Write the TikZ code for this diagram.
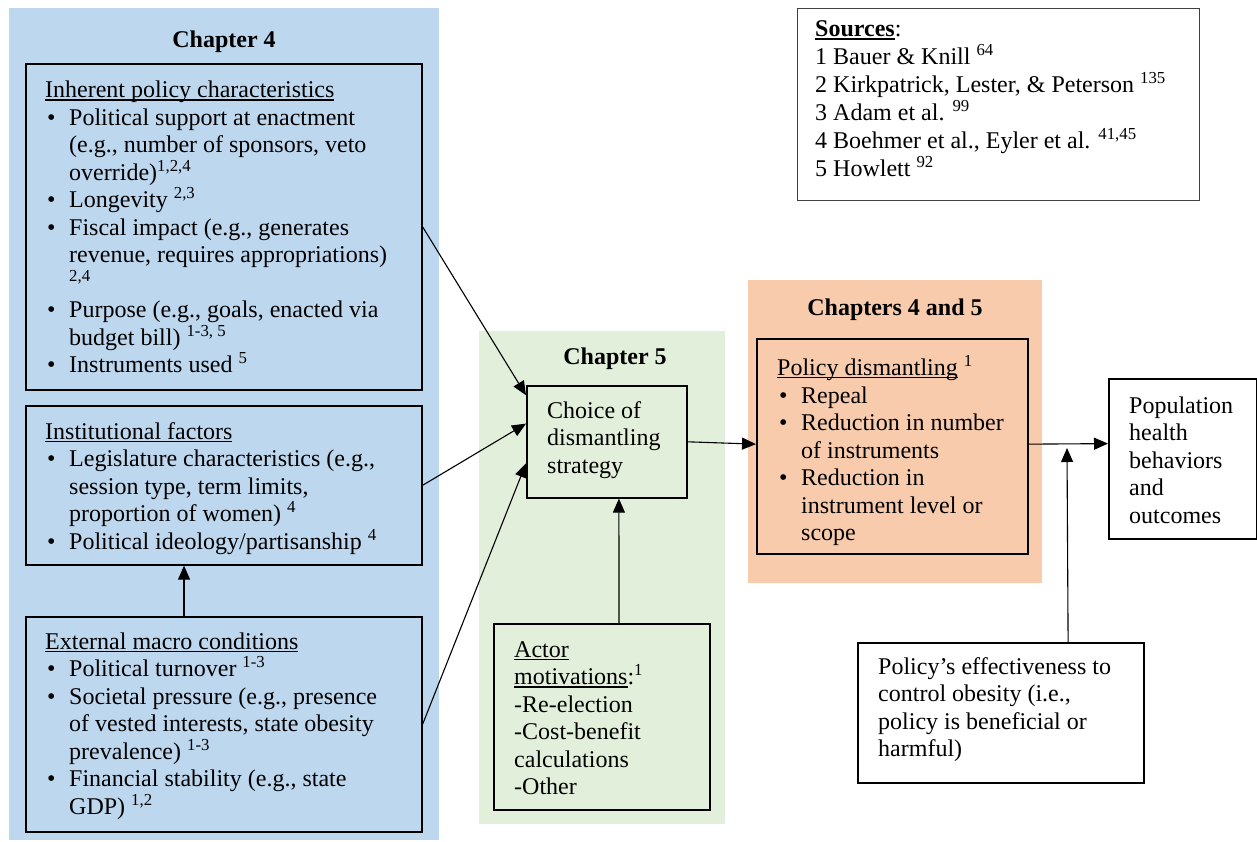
\documentclass[tikz,border=0pt]{standalone}
\usepackage{fontspec}
\setmainfont{Liberation Serif}
\usetikzlibrary{arrows.meta,calc}
\definecolor{bgblue}{RGB}{189,215,238}
\definecolor{bggreen}{RGB}{226,239,218}
\definecolor{bgorange}{RGB}{248,203,173}
\definecolor{srcgray}{RGB}{64,64,64}
\newsavebox\ulbox
\newcommand{\ul}[1]{\sbox\ulbox{#1}\rlap{\rule[-2.8pt]{\wd\ulbox}{1.3pt}}\usebox\ulbox}
\newcommand{\ulb}[1]{\sbox\ulbox{#1}\rlap{\rule[-3.2pt]{\wd\ulbox}{2pt}}\usebox\ulbox}
\newcommand{\bl}{\makebox[24pt][l]{\hspace{2pt}\textbullet}}
\newcommand{\ind}{\hspace*{24pt}}
\newcommand{\fs}{\fontsize{24}{27.5}\selectfont}
\tikzset{
  bg/.style={draw=none, inner sep=0pt, anchor=north west},
  box/.style={draw=black, line width=1.6pt, inner sep=0pt, anchor=north west},
  txt/.style={inner sep=0pt, anchor=north west, align=left, font=\fs, yshift=-3.5pt, execute at begin node=\strut},
  ttl/.style={inner sep=0pt, anchor=base, font=\fs\bfseries},
  arr/.style={draw=black, line width=1.1pt, -{Triangle[length=14pt,width=12pt]}}
}
\begin{document}
\begin{tikzpicture}[x=1pt,y=-1pt]
\useasboundingbox (0,0) rectangle (1257,841);
% backgrounds
\node[bg, fill=bgblue, minimum width=430, minimum height=832] (bgA) at (9,8) {};
\node[bg, fill=bggreen, minimum width=246, minimum height=493] (bgB) at (479,331) {};
\node[bg, fill=bgorange, minimum width=294, minimum height=303] (bgC) at (748,280) {};
% titles
\node[ttl] (t4) at (224,47) {Chapter 4};
\node[ttl] (t5) at (615,364) {Chapter 5};
\node[ttl] (t45) at (895,315) {Chapters 4 and 5};
% boxes
\node[box, minimum width=396, minimum height=326] (inh) at (25,63) {};
\node[box, minimum width=396, minimum height=159] (inst) at (25,405) {};
\node[box, minimum width=396, minimum height=215] (ext) at (25,616) {};
\node[box, minimum width=160, minimum height=112] (choice) at (526,385) {};
\node[box, minimum width=216, minimum height=186] (actor) at (493,623) {};
\node[box, minimum width=271, minimum height=215] (dism) at (756,338) {};
\node[box, minimum width=148, minimum height=160] (pop) at (1108,378) {};
\node[box, minimum width=286, minimum height=140] (eff) at (857,642) {};
\node[box, draw=srcgray, line width=1.3pt, minimum width=402, minimum height=192] (src) at (797,8) {};
% texts
\node[txt] (inhT) at (45,77.5) {\ul{Inherent policy characteristics}\\
\bl Political support at enactment\\
\ind (e.g., number of sponsors, veto\\
\ind override)\textsuperscript{1,2,4}\\
\bl Longevity \textsuperscript{2,3}\\
\bl Fiscal impact (e.g., generates\\
\ind revenue, requires appropriations)\\
\ind \textsuperscript{2,4}\\
\bl Purpose (e.g., goals, enacted via\\
\ind budget bill) \textsuperscript{1-3, 5}\\
\bl Instruments used \textsuperscript{5}};
\node[txt] (instT) at (45,418.75) {\ul{Institutional factors}\\
\bl Legislature characteristics (e.g.,\\
\ind session type, term limits,\\
\ind proportion of women) \textsuperscript{4}\\
\bl Political ideology/partisanship \textsuperscript{4}};
\node[txt] (extT) at (45,628.75) {\ul{External macro conditions}\\
\bl Political turnover \textsuperscript{1-3}\\
\bl Societal pressure (e.g., presence\\
\ind of vested interests, state obesity\\
\ind prevalence) \textsuperscript{1-3}\\
\bl Financial stability (e.g., state\\
\ind GDP) \textsuperscript{1,2}};
\node[txt] (choiceT) at (547,397.75) {Choice of\\dismantling\\strategy};
\node[txt] (actorT) at (514,637.75) {\ul{Actor}\\\ul{motivations}:\textsuperscript{1}\\-Re-election\\-Cost-benefit\\calculations\\-Other};
\node[txt] (dismT) at (777,351.75) {\ul{Policy dismantling} \textsuperscript{1}\\
\bl Repeal\\
\bl Reduction in number\\
\ind of instruments\\
\bl Reduction in\\
\ind instrument level or\\
\ind scope};
\node[txt] (popT) at (1129,392.75) {Population\\health\\behaviors\\and\\outcomes};
\node[txt] (effT) at (878,653.75) {Policy’s effectiveness to\\control obesity (i.e.,\\policy is beneficial or\\harmful)};
\node[txt, font=\fontsize{24}{28}\selectfont] (srcT) at (815,17.4) {\textbf{\ulb{Sources}}:\\
1 Bauer \& Knill \textsuperscript{64}\\
2 Kirkpatrick, Lester, \& Peterson \textsuperscript{135}\\
3 Adam et al. \textsuperscript{99}\\
4 Boehmer et al., Eyler et al. \textsuperscript{41,45}\\
5 Howlett \textsuperscript{92}};
% connectors
\draw[arr] ($(ext.north west)!0.4!(ext.north east)$) -- ($(inst.south west)!0.4!(inst.south east)$);
\draw[arr] (inh.east) -- ($(choice.north west)!0.09!(choice.south west)$);
\draw[arr] (inst.east) -- ($(choice.north west)!0.34!(choice.south west)$);
\draw[arr] (ext.east) -- ($(choice.north west)!0.69!(choice.south west)$);
\draw[arr] ($(actor.north west)!0.579!(actor.north east)$) -- ($(choice.south west)!0.575!(choice.south east)$);
\draw[arr] (choice.east) -- ($(dism.north west)!0.49!(dism.south west)$);
\draw[arr] ($(dism.north east)!0.49!(dism.south east)$) -- ($(pop.north west)!0.406!(pop.south west)$);
\coordinate (effTip) at (1067,448);
\draw[arr] ($(eff.north west)!0.734!(eff.north east)$) -- (effTip);
\end{tikzpicture}
\end{document}
